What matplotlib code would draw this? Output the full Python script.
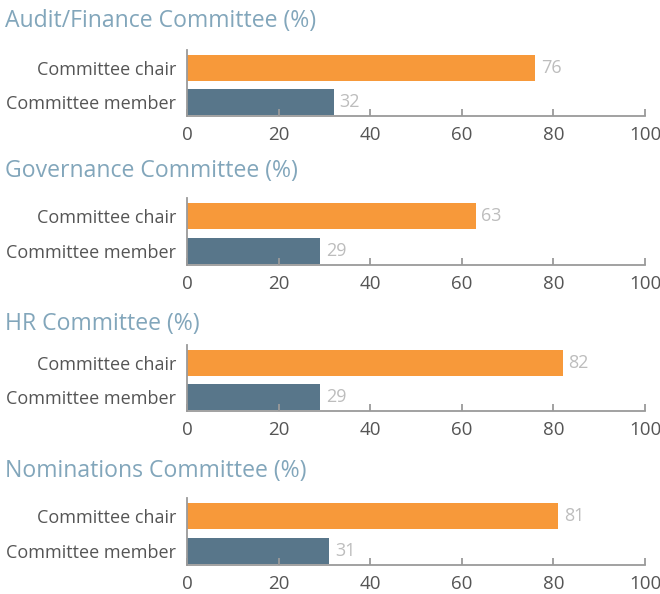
import matplotlib.pyplot as plt

plt.rcParams['font.family'] = ['Open Sans', 'DejaVu Sans']

# Share of committees by role, per committee type
committees = ["Audit/Finance Committee (%)", "Governance Committee (%)",
              "HR Committee (%)", "Nominations Committee (%)"]
roles = ["Committee chair", "Committee member"]
chair_pct = [76, 63, 82, 81]
member_pct = [32, 29, 29, 31]

ORANGE = "#F7993A"
SLATE = "#58768A"
TITLE_C = "#82A6BB"
TEXT_C = "#555555"
VALUE_C = "#BDBDBD"
AXIS_C = "#9A9A9A"

W, H = 660, 594
fig = plt.figure(figsize=(W / 100, H / 100), dpi=100)

# axes extents in pixels: (top, bottom) and title centre
panels = [(50, 116, 21), (198, 265, 171), (345, 411, 324), (498, 565, 471)]
left, right = 187, 645

for name, chair, member, (top, bot, ty) in zip(committees, chair_pct, member_pct, panels):
    ax = fig.add_axes([left / W, 1 - bot / H, (right - left) / W, (bot - top) / H])
    vals = [member, chair]
    ax.barh([0, 1], vals, height=0.75, color=[SLATE, ORANGE])
    for y, v in zip([0, 1], vals):
        ax.text(v + 1.3, y, str(v), va='center', ha='left', color=VALUE_C, fontsize=13)
    ax.set_xlim(0, 100)
    ax.set_ylim(-0.4, 1.52)
    ax.set_yticks([0, 1])
    ax.set_yticklabels(roles[::-1], fontsize=13, color=TEXT_C)
    ax.set_xticks(range(0, 101, 20))
    ax.tick_params(axis='x', direction='in', length=5, width=1.3, color=AXIS_C,
                   labelsize=13.5, labelcolor=TEXT_C, pad=7)
    ax.tick_params(axis='y', length=0, pad=8)
    for s in ['top', 'right']:
        ax.spines[s].set_visible(False)
    for s in ['left', 'bottom']:
        ax.spines[s].set_color(AXIS_C)
        ax.spines[s].set_linewidth(1.3)
    fig.text(5 / W, 1 - ty / H, name, ha='left', va='center', fontsize=16.6, color=TITLE_C)

fig.savefig("out.png", dpi=100)
